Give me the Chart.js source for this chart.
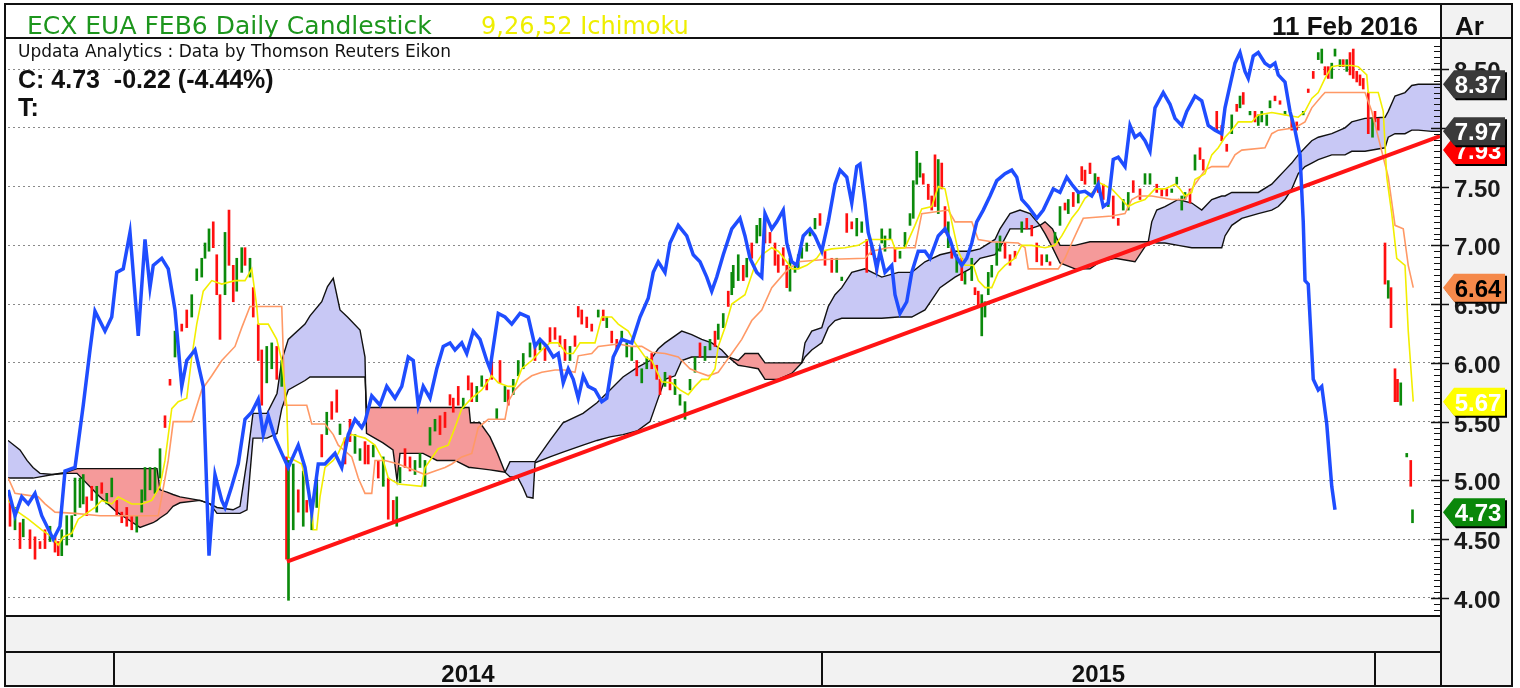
<!DOCTYPE html>
<html lang="en">
<head>
  <meta charset="UTF-8">
  <title>ECX EUA FEB6 Daily Candlestick</title>
  <script src="https://cdn.jsdelivr.net/npm/chart.js"></script>
  <style>
    html, body { margin: 0; padding: 0; background: #fff; overflow: hidden; }
    canvas { display: block; }
  </style>
</head>
<body>
  <canvas id="chart" width="1520" height="688"></canvas>

  <script>
    // x = session index (about 2.5 px per session on this chart)
    const titleText = 'ECX EUA FEB6 Daily Candlestick';
    const studyText = '9,26,52 Ichimoku';
    const dateText = '11 Feb 2016';
    const sourceText = 'Updata Analytics : Data by Thomson Reuters Eikon';
    const closeText = 'C: 4.73  -0.22 (-4.44%)';
    const lastClose = 4.73;

    const yTicks = [4.00, 4.50, 5.00, 5.50, 6.00, 6.50, 7.00, 7.50, 8.00, 8.50];
    const yearLabels = ['2014', '2015'];
    const yearStart = [45.6, 328.8, 550];

    // candles: low / high range, 1 = up (green), 0 = down (red)
    const candleX = [
      4, 6, 8, 9.3, 12, 14, 16, 18, 20, 22,
      23.3, 24.7, 26.7, 28.7, 30, 32, 33.3, 34.7, 36.7, 38.7,
      40.7, 42.7, 44.7, 46.7, 48.7, 50.7, 52.7, 54.7, 56.7, 58,
      60, 62, 64, 66, 68, 70, 72.7, 74.7, 76.7, 78.7,
      80.7, 82, 83.6, 85.3, 86.7, 88, 90, 91.6, 93.3, 94.7,
      96.7, 98, 100, 101.3, 103.3, 104.7, 106.7, 108.7, 110.7, 112.7,
      114.6, 115.4, 117.3, 119.3, 121.3, 122.7, 124.7, 126.7, 128.7, 130.7,
      132.7, 134.7, 136, 138, 140, 142, 144, 146,
      147.3, 149.3, 151.3, 153.3, 155.3, 157.3, 158.7, 160, 162, 164,
      166, 168, 170, 172, 174, 176, 178, 180, 181.3, 183.3,
      185.3, 187.3, 188.7, 190.7, 192.7, 194.7, 196.7, 198.7, 200, 202,
      203.3, 205.3, 207.3, 209.3, 212, 214, 216, 218, 220, 222,
      224, 226, 228, 230, 231.3, 232.7, 234.7, 236.7, 239.3, 241.3,
      242.7, 244.7, 246.7, 248.7, 250.7, 252.7, 254.7, 256.7, 258.7, 260.7,
      262.7, 264, 266, 268, 270, 272, 274, 276, 278, 280,
      282, 284, 286, 287.3, 289.3, 291.3, 292.7,
      293.3, 295.3, 297.3, 298.7, 300.7, 302.7, 304, 306, 308, 310,
      311.3, 313.3, 314.7, 316, 318, 319.3, 320.7, 322.7, 324, 326,
      328, 330, 332.7, 334.7, 336.7, 338.7, 340.7, 342.7, 344.7, 346.7,
      348.7, 350.7, 352.7, 354, 356, 358, 360, 362, 364, 365.3,
      366.7, 368, 369.3, 371.3, 372.7, 374, 375.3, 376.7, 378, 379.3,
      380.7, 382.7, 384.7, 386, 388.7, 390, 391.3, 392.7, 394, 395.3,
      396.7, 398.7, 400, 402, 404, 406, 408.7, 410.7, 412.7, 414.7,
      416.7, 418.7, 420, 422, 424, 426, 427.3, 429.3, 431.3, 432.7,
      434, 436,
      438, 439.3, 441.3, 443.3, 445.3, 447.3, 449.3, 451.3, 453.3, 456,
      458, 460, 462.7, 464.7, 466.7, 468.7, 470.7, 472.7, 474, 476,
      478, 480, 481.3, 486.7, 488.7, 490.7, 492.7, 494.7, 496, 497.3,
      500, 502, 503.3, 504.7, 506.7, 508, 510, 512, 514, 516.7,
      518.7, 521.3, 523.3, 525.3, 527.3, 528.7, 530, 531.3, 532.7, 534,
      536, 537.3, 538.7, 540, 541.3, 542.7, 544, 545.3, 547.3, 549,
      550, 551.3, 554, 555.3, 556.4, 558, 559, 560.3, 562.7, 564.3,
      565
    ];
    const candleLo = [
      4.61, 4.58, 4.42, 4.52, 4.42, 4.33, 4.42, 4.42, 4.48, 4.39,
      4.36, 4.36, 4.45, 4.52, 4.70, 4.77, 4.80, 4.70, 4.83, 4.73,
      4.89, 4.80, 4.86, 4.70, 4.64, 4.61, 4.58, 4.56, 4.73, 4.83,
      4.92, 4.89, 5.02, 5.45, 5.81, 6.05, 6.27, 6.30, 6.39, 6.70,
      6.73, 6.89, 6.95, 6.98, 6.58, 6.20, 6.58, 6.83, 6.52, 6.61,
      6.77, 6.83, 6.73, 6.39, 6.02, 5.64, 5.83, 5.95, 5.86, 5.80,
      4.33, 3.98, 4.58, 4.73, 4.61, 4.73, 4.58, 4.77, 5.20, 5.39,
      5.52, 5.58, 5.39, 5.14, 5.33, 5.23, 5.17, 5.14,
      5.14, 5.20, 5.02, 4.95, 4.67, 4.64, 4.61, 4.98, 5.11, 5.08,
      5.05, 5.11, 4.95, 5.30, 5.42, 5.39, 5.45, 5.64, 5.58, 5.64,
      5.61, 5.77, 5.67, 5.67, 5.80, 5.77, 5.86, 5.52, 5.83, 5.67,
      5.64, 5.73, 5.89, 5.95, 6.05, 6.02, 6.11, 6.02, 6.17, 6.20,
      6.14, 6.02, 6.02, 6.14, 6.39, 6.33, 6.30, 6.27, 6.39, 6.36,
      6.30, 6.17, 6.11, 6.20, 6.05, 6.02, 5.89, 5.83, 5.95, 5.95,
      5.86, 5.73, 5.80, 5.77, 5.73, 5.64, 5.52, 5.77, 5.92, 6.05,
      6.02, 6.11, 6.14, 6.20, 6.30, 6.48, 6.58,
      6.64, 6.70, 6.70, 6.73, 6.89, 7.02, 7.08, 7.02, 7.02, 6.83,
      6.77, 6.83, 6.64, 6.61, 6.77, 6.80, 6.89, 6.95, 7.08, 7.14,
      7.17, 6.83, 6.77, 6.77, 6.70, 7.11, 7.14, 7.08, 7.11, 6.77,
      6.92, 6.77, 7.02, 6.95, 7.05, 6.86, 6.89, 6.98, 7.17, 7.23,
      7.52, 7.58, 7.52, 7.39, 7.30, 7.33, 7.27, 7.48, 7.11, 6.98,
      6.89, 6.77, 6.70, 6.67, 6.70, 6.58, 6.48, 6.23, 6.39, 6.58,
      6.73, 6.83, 6.95, 6.89, 6.83, 6.89, 7.11, 7.14, 7.08, 6.86,
      6.83, 6.86, 6.83, 7.02, 7.17, 7.30, 7.27, 7.33, 7.36, 7.55,
      7.52, 7.61,
      7.52, 7.45, 7.39, 7.33, 7.23, 7.17, 7.30, 7.30, 7.45, 7.39,
      7.52, 7.52, 7.45, 7.42, 7.42, 7.45, 7.52, 7.30, 7.39, 7.36,
      7.64, 7.73, 7.64, 7.98, 7.89, 7.80, 7.95, 8.14, 8.17, 8.20,
      8.11, 8.05, 8.02, 8.05, 8.02, 8.17, 8.23, 8.20, 8.11, 7.98,
      7.98, 8.11, 8.30, 8.42, 8.58, 8.55, 8.45, 8.42, 8.42, 8.61,
      8.52, 8.52, 8.48, 8.45, 8.42, 8.39, 8.36, 8.33, 7.95, 7.92,
      8.05, 7.98, 6.67, 6.55, 6.30, 5.67, 5.67, 5.64, 5.20, 4.95,
      4.64
    ];
    const candleHi = [
      4.86, 4.77, 4.64, 4.67, 4.58, 4.52, 4.48, 4.58, 4.61, 4.52,
      4.48, 4.58, 4.70, 4.70, 5.02, 5.02, 5.05, 4.86, 4.95, 4.95,
      4.98, 4.89, 5.02, 4.83, 4.73, 4.77, 4.70, 4.70, 4.92, 5.11,
      5.11, 5.11, 5.27, 5.55, 5.86, 6.27, 6.33, 6.45, 6.58, 6.80,
      6.89, 7.02, 7.14, 7.20, 6.92, 6.58, 7.11, 7.30, 6.83, 6.89,
      6.98, 6.98, 6.89, 6.64, 6.33, 6.11, 6.14, 6.17, 6.14, 6.02,
      5.20, 5.17, 5.14, 4.92, 5.08, 4.83, 4.77, 5.02, 5.39, 5.58,
      5.67, 5.77, 5.48, 5.36, 5.52, 5.39, 5.27, 5.33,
      5.30, 5.30, 5.17, 5.20, 5.02, 4.83, 4.86, 5.11, 5.27, 5.20,
      5.17, 5.23, 5.17, 5.45, 5.52, 5.55, 5.58, 5.73, 5.70, 5.80,
      5.70, 5.89, 5.83, 5.80, 5.89, 5.86, 6.02, 5.61, 6.02, 5.80,
      5.77, 5.86, 6.02, 6.08, 6.17, 6.14, 6.20, 6.14, 6.30, 6.30,
      6.23, 6.20, 6.14, 6.23, 6.48, 6.45, 6.39, 6.33, 6.45, 6.45,
      6.39, 6.27, 6.20, 6.27, 6.17, 6.14, 6.02, 5.95, 6.05, 6.08,
      5.98, 5.86, 5.92, 5.89, 5.86, 5.73, 5.67, 5.86, 6.05, 6.17,
      6.14, 6.20, 6.27, 6.33, 6.42, 6.61, 6.77,
      6.83, 6.92, 6.83, 6.89, 7.02, 7.17, 7.23, 7.20, 7.11, 7.02,
      6.92, 6.98, 6.83, 6.89, 6.83, 6.92, 6.98, 7.02, 7.14, 7.23,
      7.27, 6.95, 6.89, 6.89, 6.73, 7.27, 7.20, 7.23, 7.20, 7.05,
      7.02, 6.89, 7.14, 7.08, 7.14, 6.98, 6.95, 7.11, 7.27, 7.55,
      7.80, 7.70, 7.61, 7.52, 7.42, 7.77, 7.73, 7.70, 7.33, 7.20,
      6.98, 6.92, 6.89, 6.77, 6.89, 6.64, 6.61, 6.58, 6.52, 6.77,
      6.83, 7.02, 7.08, 7.02, 6.92, 6.95, 7.20, 7.23, 7.17, 7.02,
      6.92, 6.92, 6.86, 7.11, 7.33, 7.36, 7.39, 7.45, 7.45, 7.67,
      7.64, 7.70,
      7.61, 7.58, 7.52, 7.39, 7.42, 7.23, 7.39, 7.45, 7.55, 7.48,
      7.61, 7.61, 7.52, 7.48, 7.48, 7.48, 7.58, 7.42, 7.45, 7.48,
      7.77, 7.83, 7.73, 8.14, 8.02, 7.86, 8.11, 8.20, 8.27, 8.30,
      8.14, 8.14, 8.11, 8.14, 8.11, 8.23, 8.27, 8.23, 8.14, 8.08,
      8.05, 8.14, 8.33, 8.48, 8.64, 8.67, 8.52, 8.52, 8.55, 8.67,
      8.58, 8.58, 8.58, 8.64, 8.67, 8.48, 8.45, 8.42, 8.30, 8.08,
      8.14, 8.08, 7.02, 6.70, 6.64, 5.95, 5.86, 5.83, 5.23, 5.17,
      4.75
    ];
    const candleUp = [
      0,1,0,1,0,0,0,0,1,0, 0,1,1,1,1,1,1,0,0,1, 0,1,1,0,0,0,0,1,1,1,
      1,1,1,0,0,1,0,0,1,1, 1,1,1,0,0,0,1,0,0,1, 1,0,1,0,0,0,1,1,0,1,
      0,1,1,0,1,0,1,1,0,1, 0,0,1,0,0,1,1,0,
      0,1,0,1,0,0,1,1,0,0, 1,1,1,1,1,0,0,0,0,0, 1,0,0,1,1,0,0,1,0,1,
      0,1,1,1,1,0,1,0,0,0, 0,0,1,0,0,0,0,0,1,0, 1,0,0,1,1,1,0,1,1,0,
      0,0,1,0,1,1,1,1,1,0, 1,1,0,1,1,0,1,
      1,1,0,1,0,1,1,0,0,0, 0,0,0,1,1,1,1,1,1,1, 0,0,0,1,1,0,0,1,1,0,
      0,0,1,1,1,0,1,1,1,1, 1,1,0,0,0,0,1,0,0,1, 0,1,0,1,1,0,0,1,1,1,
      1,1,1,0,0,0,1,0,0,0, 0,1,0,1,1,0,1,0,1,0, 0,0,
      1,0,0,1,0,0,1,1,0,0, 1,1,0,0,0,1,1,1,1,0, 1,0,0,0,0,0,1,0,1,0,
      1,0,1,1,1,1,0,0,1,0, 0,1,0,0,1,1,0,0,1,1, 1,0,1,0,0,0,0,0,0,1,
      0,0,0,1,0,0,0,1,1,0, 1
    ];

    // lagging span (blue)
    const lagX = [
      3.3, 6, 8.7, 11.3, 14, 16.7, 21.3, 24, 26, 30,
      33.3, 36, 38, 42, 44.7, 46.7, 49.3, 52, 55.3, 58,
      60, 61.3, 64.7, 67.3, 70, 72.7, 74.7, 78, 81.3, 83.6,
      86, 88.7, 90, 92.7, 95.3, 98, 100.7, 103.3, 105.3, 107.3,
      110, 112.7, 115.3, 119.3, 122, 124.7, 127.3, 130, 134, 136.7,
      139.3, 142, 144.7, 146, 148.7, 152, 154.7, 158, 160.7, 163.3,
      165.3, 167.3, 169.3, 172, 174.7, 177.3, 180, 182, 184.7, 186.7,
      189.3, 192, 194.7, 196, 199.3, 202, 204.7, 208, 211.3, 214,
      216, 218.7, 221.3, 223.3, 225.3, 227.3, 229.3, 231.3, 233.3, 235.3,
      238, 240.7, 242.7, 245.3, 248.7, 252.7, 256, 259.3, 261.3, 263.3,
      266, 268, 271.3, 274.7, 277.3, 280, 282.7, 284.7, 286.7, 289.3,
      292.7, 296, 298, 300, 302.7, 304.7, 306, 308.7, 310.7, 313.3,
      314.7, 316.7, 318.7, 321.3, 324, 326, 328.7, 331.3, 334, 336,
      338.7, 340.7, 342.7, 344, 346, 347.3, 349.3, 350.7, 352, 354,
      356.7, 358, 360, 362.7, 364.7, 367.3, 370, 372, 375.3, 378,
      380, 382, 384.7, 386.7, 388.7, 390.7, 393.3, 396, 398.7, 402,
      404.7, 406.7, 408.7, 411.3, 414.7, 417.3, 419.3, 421.3, 424, 426.7,
      428.7, 431.3, 434, 436.7, 439.3, 441.3, 443.3, 445.3, 447.3, 450,
      452, 454, 456, 458, 460, 462, 465.3, 468, 470, 472.7,
      474.7, 478, 480.7, 483.3, 486, 488.7, 490, 492, 494, 496,
      498, 499.3, 501.3, 503.3, 506, 508, 510, 511.3, 514, 516,
      518, 520, 521.3, 522, 523.3, 525.3, 527.3, 528.7, 530.7, 532.7,
      534
    ];
    const lagY = [
      4.92, 4.70, 4.86, 4.80, 4.89, 4.70, 4.50, 4.61, 5.08, 5.11,
      5.64, 6.11, 6.44, 6.27, 6.39, 6.77, 6.80, 7.11, 6.23, 7.05,
      6.64, 6.83, 6.89, 6.80, 6.45, 5.80, 6.02, 6.11, 5.80, 4.36,
      5.05, 4.83, 4.77, 4.95, 5.14, 5.52, 5.58, 5.69, 5.39, 5.55,
      5.36, 5.23, 5.11, 5.30, 5.11, 4.73, 5.14, 5.14, 5.23, 5.11,
      5.39, 5.52, 5.45, 5.50, 5.72, 5.64, 5.80, 5.70, 5.80, 6.05,
      6.02, 5.64, 5.80, 5.70, 5.95, 6.14, 6.17, 6.11, 6.17, 6.08,
      6.27, 6.20, 6.02, 5.95, 6.42, 6.39, 6.33, 6.42, 6.39, 6.14,
      6.20, 6.14, 6.05, 6.08, 5.83, 5.95, 5.86, 5.70, 5.89, 5.80,
      5.77, 5.67, 5.70, 6.05, 6.20, 6.17, 6.39, 6.55, 6.77, 6.86,
      6.77, 7.02, 7.17, 7.08, 6.92, 6.86, 6.73, 6.61, 6.73, 6.92,
      7.14, 7.23, 7.08, 6.89, 6.77, 6.73, 7.27, 7.14, 7.20, 7.30,
      7.02, 6.86, 6.83, 7.08, 7.14, 7.08, 6.95, 7.20, 7.52, 7.64,
      7.58, 7.36, 7.67, 7.69, 7.36, 7.11, 6.95, 6.80, 6.95, 6.77,
      6.83, 6.58, 6.42, 6.52, 6.77, 6.95, 6.95, 6.89, 7.08, 7.14,
      7.05, 6.92, 6.83, 6.89, 7.02, 7.20, 7.30, 7.42, 7.55, 7.61,
      7.64, 7.58, 7.39, 7.33, 7.23, 7.30, 7.39, 7.48, 7.45, 7.58,
      7.52, 7.45, 7.46, 7.42, 7.52, 7.33, 7.36, 7.73, 7.75, 7.67,
      8.02, 7.92, 7.95, 7.89, 7.80, 8.17, 8.30, 8.20, 8.08, 8.02,
      8.14, 8.27, 8.23, 8.02, 7.98, 7.95, 8.17, 8.36, 8.55, 8.64,
      8.48, 8.42, 8.61, 8.64, 8.55, 8.52, 8.55, 8.45, 8.39, 8.14,
      7.98, 7.77, 7.20, 6.70, 6.67, 5.86, 5.77, 5.80, 5.48, 4.95,
      4.75
    ];

    // conversion line (9)
    const tenkanX = [
      3.3, 7.3, 11.3, 16.7, 20.7, 23.3, 25.3, 28.7, 31.3, 35.3,
      38, 40.7, 44.7, 47.3, 52.7, 56.7, 60.7, 64, 66, 68.7,
      71.3, 74.7, 76.7, 78.7, 81.3, 84.7, 88.7, 94, 98, 100.7,
      102.7, 103.3, 107.3, 110.7, 112.7, 114.7, 115.3, 118, 120.7, 122.7,
      124.7, 125.3, 126.7, 128, 130, 133.3, 135.3, 138, 140.7, 146,
      150, 153.3, 155.3, 159.3, 168.7, 170, 175.3, 179.3, 182, 184.7,
      188.7, 192.7, 196.7, 199.3, 203.3, 206, 208.7, 212.7, 216.7, 220,
      223.3, 226.7, 229.3, 232, 238, 240.7, 244.7, 247.3, 251.3, 254,
      258, 260.7, 264.7, 268.7, 272, 275.3, 278, 280.7, 283.3, 286,
      287.3, 290, 292.7, 298, 302, 304.7, 308.7, 311.3, 314.7, 316.7,
      319.3, 322.7, 326.7, 328.7, 332.7, 338, 343.3, 347.3, 352.7, 356.7,
      358, 362, 366, 368.7, 372.7, 375.3, 378, 380.7, 383.3, 386,
      389.3, 391.3, 394, 396.7, 399.3, 402, 406, 408.7, 412.7, 418,
      422, 424.7, 428.7, 431.3, 434, 438, 440, 444.7, 448.7, 451.3,
      454, 458, 462, 466, 470, 472, 474, 476.7, 478, 482,
      484.7, 487.3, 490, 492.7, 495.3, 500.7, 503.3, 508.7, 514, 519.3,
      522, 524.7, 527.3, 530, 532.7, 535.3, 540.7, 543.3, 546.7, 547.3,
      551.3, 553.3, 554.7, 556.7, 558.7, 562, 563.3, 565.3
    ];
    const tenkanY = [
      4.83, 4.73, 4.67, 4.58, 4.52, 4.45, 4.52, 4.55, 4.67, 4.73,
      4.77, 4.83, 4.80, 4.86, 4.80, 4.80, 4.83, 4.95, 5.17, 5.61,
      5.67, 5.70, 6.05, 6.33, 6.61, 6.70, 6.67, 6.70, 6.70, 6.80,
      6.48, 6.33, 6.33, 6.20, 6.02, 5.64, 5.20, 5.17, 5.14, 4.95,
      4.80, 4.58, 4.58, 4.86, 5.11, 5.17, 5.23, 5.36, 5.39, 5.36,
      5.30, 5.17, 5.02, 4.97, 4.95, 5.11, 5.27, 5.30, 5.45, 5.61,
      5.70, 5.77, 5.89, 5.83, 5.80, 5.80, 5.95, 6.02, 6.11, 6.17,
      6.17, 6.08, 6.08, 6.17, 6.17, 6.39, 6.39, 6.33, 6.27, 6.17,
      6.05, 6.02, 5.84, 5.83, 5.77, 5.73, 5.80, 5.86, 5.86, 5.95,
      6.14, 6.30, 6.50, 6.58, 6.83, 6.92, 6.98, 6.95, 6.86, 6.80,
      6.80, 6.83, 6.89, 6.95, 6.97, 6.98, 7.00, 7.05, 7.05, 7.05,
      6.97, 6.98, 7.17, 7.31, 7.33, 7.50, 7.48, 7.20, 6.95, 6.83,
      6.83, 6.70, 6.64, 6.64, 6.77, 6.83, 6.89, 7.00, 7.00, 6.98,
      7.00, 7.08, 7.23, 7.30, 7.40, 7.47, 7.53, 7.48, 7.39, 7.33,
      7.36, 7.39, 7.48, 7.48, 7.52, 7.48, 7.42, 7.45, 7.56, 7.61,
      7.77, 7.83, 7.92, 7.98, 8.05, 8.05, 8.11, 8.13, 8.11, 8.09,
      8.14, 8.25, 8.30, 8.42, 8.52, 8.53, 8.53, 8.52, 8.45, 8.30,
      8.30, 8.14, 7.58, 7.27, 6.89, 6.83, 6.27, 5.67
    ];

    // base line (26)
    const kijunX = [
      3.3, 6, 15.3, 18, 22, 30, 40, 50, 56, 63.3,
      67.3, 69.3, 76.7, 80.7, 84.7, 88.7, 94, 96.7, 100, 112.7,
      114, 122.7, 124.7, 130, 133.3, 135.3, 140.7, 143.3, 146, 148.7,
      150, 154, 159.3, 170, 174, 178, 180.7, 184.7, 188.7, 191.3,
      195.3, 202, 203.3, 206, 208.7, 212.7, 216.7, 222, 226, 230,
      231.3, 236.7, 239.3, 247.3, 252.7, 256.7, 260.7, 266, 271.3, 276,
      279.3, 283.3, 287.3, 290, 292.7, 296.7, 300.7, 304.7, 308.7, 314,
      319.3, 330, 346, 348.7, 355.3, 366, 368.7, 379.3, 382, 388.7,
      391.3, 396.7, 407.3, 410, 411.3, 423.3, 426, 428.7, 431.3, 433.3,
      444.7, 450, 452.7, 455.3, 460.7, 468.7, 474, 476.7, 482, 484.7,
      491.3, 494, 496.7, 506, 508.7, 511.3, 518, 522, 524.7, 528.7,
      530, 546, 548.7, 552.7, 555.3, 558, 561.3, 563.3, 565.3
    ];
    const kijunY = [
      5.02, 4.89, 4.86, 4.80, 4.73, 4.72, 4.70, 4.70, 4.70, 4.70,
      5.17, 5.50, 5.50, 5.77, 5.89, 6.02, 6.14, 6.30, 6.48, 6.48,
      5.64, 5.64, 5.48, 5.48, 5.39, 5.30, 5.20, 5.02, 4.89, 4.89,
      5.17, 5.17, 5.14, 5.05, 5.08, 5.11, 5.14, 5.20, 5.23, 5.45,
      5.52, 5.52, 5.67, 5.77, 5.83, 5.89, 5.92, 5.94, 5.94, 5.92,
      6.06, 6.08, 6.14, 6.16, 6.14, 6.14, 6.09, 6.08, 6.05, 5.95,
      5.92, 5.89, 5.92, 6.00, 6.08, 6.20, 6.36, 6.45, 6.64, 6.77,
      6.86, 6.88, 6.89, 6.95, 6.98, 6.98, 7.27, 7.30, 7.20, 7.20,
      7.05, 7.03, 7.02, 6.98, 6.80, 6.80, 6.89, 7.02, 7.14, 7.23,
      7.25, 7.27, 7.39, 7.42, 7.42, 7.39, 7.39, 7.48, 7.64, 7.67,
      7.67, 7.77, 7.81, 7.83, 7.95, 7.98, 8.00, 8.05, 8.17, 8.27,
      8.30, 8.30, 8.14, 7.80, 7.58, 7.17, 7.14, 6.83, 6.64
    ];

    // cloud: leading span A and leading span B
    const cloudX = [
      3.2, 8, 10.8, 13.2, 16, 21.2, 26.8, 30.8, 40, 46.8,
      53.2, 56, 61.2, 62.8, 64, 66.8, 69.2, 72, 80, 84,
      86.8, 93.2, 96, 98.8, 100, 101.2, 106.8, 110.8, 112.7, 115.3,
      122, 124, 128.7, 131, 133.3, 136, 139, 144, 146, 146.6,
      153.2, 157.2, 158.8, 160, 169.2, 174.8, 182, 187.6, 188.2, 192,
      196, 199, 202, 204, 207, 209.2, 210.8, 213.2, 214, 220,
      225.2, 233.2, 238.8, 244, 249.2, 254.8, 260, 263.3, 266, 270,
      272.7, 276.7, 280.7, 284.7, 288.7, 291.3, 295.3, 298, 303.3, 306,
      311.3, 316.7, 320.7, 322, 324.7, 328.7, 331.3, 334, 336.7, 340.7,
      346, 352.7, 359.3, 364.7, 370, 376, 382, 388, 392, 398,
      400, 404, 408, 412, 416, 418, 421, 424, 430, 436,
      440, 446, 454, 459.3, 460.7, 462.7, 466, 471.3, 476.7, 480.7,
      484.7, 488.7, 490, 492.7, 496.7, 503.3, 508.7, 511.3, 514, 516.7,
      519.3, 522, 524.7, 527.3, 532.7, 538, 540.7, 546, 554, 555.3,
      558, 562, 564.7, 567.3, 572.7, 576
    ];
    const spanA = [
      5.34, 5.26, 5.17, 5.11, 5.06, 5.05, 5.06, 5.06, 4.86, 4.73,
      4.64, 4.60, 4.64, 4.66, 4.68, 4.72, 4.78, 4.81, 4.83, 4.80,
      4.77, 4.75, 4.78, 5.17, 5.37, 5.57, 5.57, 5.74, 6.02, 6.20,
      6.33, 6.40, 6.52, 6.65, 6.72, 6.45, 6.39, 6.28, 6.05, 5.40,
      5.32, 5.26, 5.00, 5.23, 5.23, 5.17, 5.17, 5.11, 5.11, 5.10,
      5.09, 5.08, 5.07, 5.16, 5.16, 5.16, 5.16, 5.16, 5.16, 5.34,
      5.49, 5.57, 5.66, 5.77, 5.88, 5.96, 6.02, 6.12, 6.17, 6.23,
      6.27, 6.24, 6.20, 6.17, 6.11, 6.05, 5.98, 5.97, 5.95, 5.86,
      5.86, 5.91, 6.00, 6.17, 6.27, 6.30, 6.48, 6.58, 6.64, 6.77,
      6.80, 6.73, 6.77, 6.77, 6.86, 6.92, 6.95, 6.95, 6.97, 7.05,
      7.14, 7.27, 7.30, 7.27, 7.17, 7.10, 6.98, 6.85, 6.80, 6.80,
      6.86, 6.89, 6.86, 7.03, 7.20, 7.30, 7.33, 7.39, 7.36, 7.30,
      7.39, 7.42, 7.42, 7.45, 7.45, 7.45, 7.52, 7.58, 7.64, 7.70,
      7.77, 7.83, 7.89, 7.92, 7.95, 8.00, 8.05, 8.08, 8.09, 8.14,
      8.27, 8.30, 8.36, 8.37, 8.37, 8.37
    ];
    const spanB = [
      5.02, 5.02, 5.02, 5.02, 5.03, 5.05, 5.07, 5.10, 5.10, 5.10,
      5.10, 5.10, 5.10, 5.10, 4.92, 4.90, 4.88, 4.86, 4.83, 4.80,
      4.72, 4.72, 4.72, 4.75, 5.06, 5.36, 5.36, 5.40, 5.61, 5.77,
      5.85, 5.88, 5.88, 5.88, 5.88, 5.88, 5.88, 5.88, 5.88, 5.62,
      5.62, 5.62, 5.62, 5.62, 5.62, 5.62, 5.62, 5.62, 5.49, 5.49,
      5.37, 5.23, 5.07, 5.03, 5.03, 4.94, 4.86, 4.85, 5.15, 5.20,
      5.24, 5.30, 5.34, 5.37, 5.39, 5.42, 5.50, 5.70, 5.86, 5.89,
      6.02, 6.05, 6.05, 6.05, 6.05, 6.05, 6.02, 6.08, 6.08, 6.00,
      6.00, 6.00, 6.00, 6.05, 6.11, 6.17, 6.30, 6.36, 6.38, 6.38,
      6.38, 6.38, 6.39, 6.39, 6.45, 6.64, 6.73, 6.80, 6.89, 6.92,
      6.98, 7.14, 7.14, 7.14, 7.17, 7.20, 7.14, 7.00, 7.00, 7.03,
      7.03, 7.03, 7.03, 7.03, 7.03, 7.02, 7.02, 7.00, 6.98, 6.98,
      6.98, 6.98, 7.08, 7.17, 7.23, 7.27, 7.30, 7.33, 7.39, 7.48,
      7.61, 7.67, 7.70, 7.73, 7.77, 7.77, 7.80, 7.80, 7.83, 7.92,
      7.95, 7.95, 7.98, 7.98, 7.97, 7.97
    ];

    // support trendline
    const trendX = [114.8, 576];
    const trendY = [4.31, 7.93];

    const pts = (xs, ys) => xs.map((x, i) => ({ x: x, y: ys[i] }));
    const last = arr => arr[arr.length - 1];

    const candlePts = candleX.map((x, i) => ({ x: x, y: [candleLo[i], candleHi[i]] }));
    const candleCols = candleUp.map(u => u ? '#0b8a0b' : '#ff1010');

    const SANS = '"Liberation Sans", Arial, sans-serif';
    const WIDE = '"DejaVu Sans", Verdana, sans-serif';

    function line(c, x1, y1, x2, y2, w, col) {
      c.beginPath();
      c.lineWidth = w;
      c.strokeStyle = col || '#111';
      c.moveTo(x1, y1);
      c.lineTo(x2, y2);
      c.stroke();
    }

    function tag(c, x, y, text, bg, fg) {
      const h = 14, w = 62;
      const shape = (ox, oy) => {
        c.beginPath();
        c.moveTo(x + ox, y + oy);
        c.lineTo(x + 11 + ox, y - h + oy);
        c.lineTo(x + w + ox, y - h + oy);
        c.lineTo(x + w + ox, y + h + oy);
        c.lineTo(x + 11 + ox, y + h + oy);
        c.closePath();
      };
      c.fillStyle = '#000';
      shape(2, 2); c.fill();
      c.fillStyle = bg;
      shape(0, 0); c.fill();
      c.fillStyle = fg;
      c.font = 'bold 24px ' + SANS;
      c.textAlign = 'center';
      c.fillText(text, x + 35, y + 9);
    }

    const decor = {
      id: 'decor',
      beforeDraw(chart) {
        const c = chart.ctx, a = chart.chartArea;
        c.save();
        c.fillStyle = '#ffffff';
        c.fillRect(0, 0, chart.width, chart.height);
        c.fillStyle = '#f2f2f2';
        c.fillRect(a.right, 4, 1512 - a.right, 682);
        c.fillRect(5, a.bottom, a.right - 5, 686 - a.bottom);
        c.restore();
      },
      afterDraw(chart) {
        const c = chart.ctx, a = chart.chartArea;
        const xs = chart.scales.x, ys = chart.scales.y;
        c.save();

        // header
        c.textAlign = 'left';
        c.font = '25px ' + WIDE;
        c.fillStyle = '#1d961d';
        c.fillText(titleText, 27, 34);
        c.fillStyle = '#eeee00';
        c.font = '24px ' + WIDE;
        c.fillText(studyText, 481, 34);
        c.font = 'bold 26px ' + SANS;
        c.fillStyle = '#111';
        c.textAlign = 'right';
        c.fillText(dateText, 1418, 35);
        c.textAlign = 'left';
        c.fillText('Ar', 1455, 35);

        c.font = '17px ' + WIDE;
        c.fillText(sourceText, 18, 57);
        c.font = 'bold 25px ' + SANS;
        c.fillText(closeText, 18, 88);
        c.fillText('T:', 18, 116);

        // price axis ticks
        for (let v = Math.ceil(ys.min * 20) / 20; v <= ys.max; v += 0.05) {
          const y = Math.round(ys.getPixelForValue(v)) + 0.5;
          line(c, a.right - 6, y, a.right, y, 1, '#111');
        }
        c.font = 'bold 24px ' + SANS;
        c.fillStyle = '#1a1a1a';
        yTicks.forEach(v => {
          const y = Math.round(ys.getPixelForValue(v)) + 0.5;
          line(c, a.right - 9, y, a.right + 9, y, 1.5, '#111');
          c.fillText(v.toFixed(2), a.right + 14, y + 9);
        });

        // last-value tags
        const tx = a.right + 3;
        tag(c, tx, ys.getPixelForValue(last(trendY)) + 14, last(trendY).toFixed(2), '#ff0000', '#fff');
        tag(c, tx, ys.getPixelForValue(last(spanA)), last(spanA).toFixed(2), '#3a3a3a', '#fff');
        tag(c, tx, ys.getPixelForValue(last(spanB)), last(spanB).toFixed(2), '#3a3a3a', '#fff');
        tag(c, tx, ys.getPixelForValue(last(kijunY)), last(kijunY).toFixed(2), '#f5894a', '#000');
        tag(c, tx, ys.getPixelForValue(last(tenkanY)), last(tenkanY).toFixed(2), '#ffff00', '#fff');
        tag(c, tx, ys.getPixelForValue(lastClose), lastClose.toFixed(2), '#0a870a', '#fff');

        // time bands
        line(c, 5, a.bottom + 1, a.right, a.bottom + 1, 2);
        line(c, 5, 652, a.right, 652, 2);
        yearStart.forEach(v => {
          const x = Math.round(xs.getPixelForValue(v));
          line(c, x, 652, x, 686, 2);
        });
        c.font = 'bold 24px ' + SANS;
        c.fillStyle = '#111';
        c.textAlign = 'center';
        yearLabels.forEach((t, i) => {
          const x = (xs.getPixelForValue(yearStart[i]) + xs.getPixelForValue(yearStart[i + 1])) / 2;
          c.fillText(t, x, 682);
        });

        // frame
        line(c, 4, 38, 1512, 38, 2);
        line(c, a.right + 1, 4, a.right + 1, 686, 2);
        c.lineWidth = 2;
        c.strokeStyle = '#111';
        c.strokeRect(5, 4, 1507, 682);
        c.restore();
      }
    };

    new Chart(document.getElementById('chart'), {
      type: 'line',
      data: {
        datasets: [
          {
            label: 'Lagging span',
            data: pts(lagX, lagY),
            borderColor: '#1f4dff',
            borderWidth: 3.5,
            order: 1
          },
          {
            label: 'Trend',
            data: pts(trendX, trendY),
            borderColor: '#ff1414',
            borderWidth: 4,
            order: 2
          },
          {
            label: 'Tenkan',
            data: pts(tenkanX, tenkanY),
            borderColor: '#f2ee00',
            borderWidth: 1.6,
            order: 3
          },
          {
            label: 'Kijun',
            data: pts(kijunX, kijunY),
            borderColor: '#ff9966',
            borderWidth: 1.6,
            order: 4
          },
          {
            type: 'bar',
            label: 'Candles',
            data: candlePts,
            backgroundColor: candleCols,
            barThickness: 2,
            order: 5
          },
          {
            label: 'Span A',
            data: pts(cloudX, spanA),
            borderColor: '#111',
            borderWidth: 1.4,
            fill: { target: '+1', above: '#c8c8f5', below: '#f59a9a' },
            order: 6
          },
          {
            label: 'Span B',
            data: pts(cloudX, spanB),
            borderColor: '#111',
            borderWidth: 1.4,
            order: 7
          }
        ]
      },
      options: {
        responsive: false,
        animation: false,
        layout: { padding: { left: 8, right: 0, top: 40, bottom: 73 } },
        elements: { point: { radius: 0 }, line: { tension: 0 } },
        plugins: {
          legend: { display: false },
          tooltip: { enabled: false },
          filler: { drawTime: 'beforeDatasetsDraw' }
        },
        scales: {
          x: { type: 'linear', min: 3.2, max: 576, display: false, offset: false },
          y: {
            position: 'right',
            min: 3.855,
            max: 8.747,
            afterBuildTicks: s => { s.ticks = yTicks.map(v => ({ value: v })); },
            afterFit: s => { s.width = 80; },
            ticks: { display: false },
            grid: { color: '#8a8a8a', lineWidth: 1, drawTicks: false },
            border: { display: false, dash: [2, 3] }
          }
        }
      },
      plugins: [decor]
    });
  </script>
</body>
</html>
